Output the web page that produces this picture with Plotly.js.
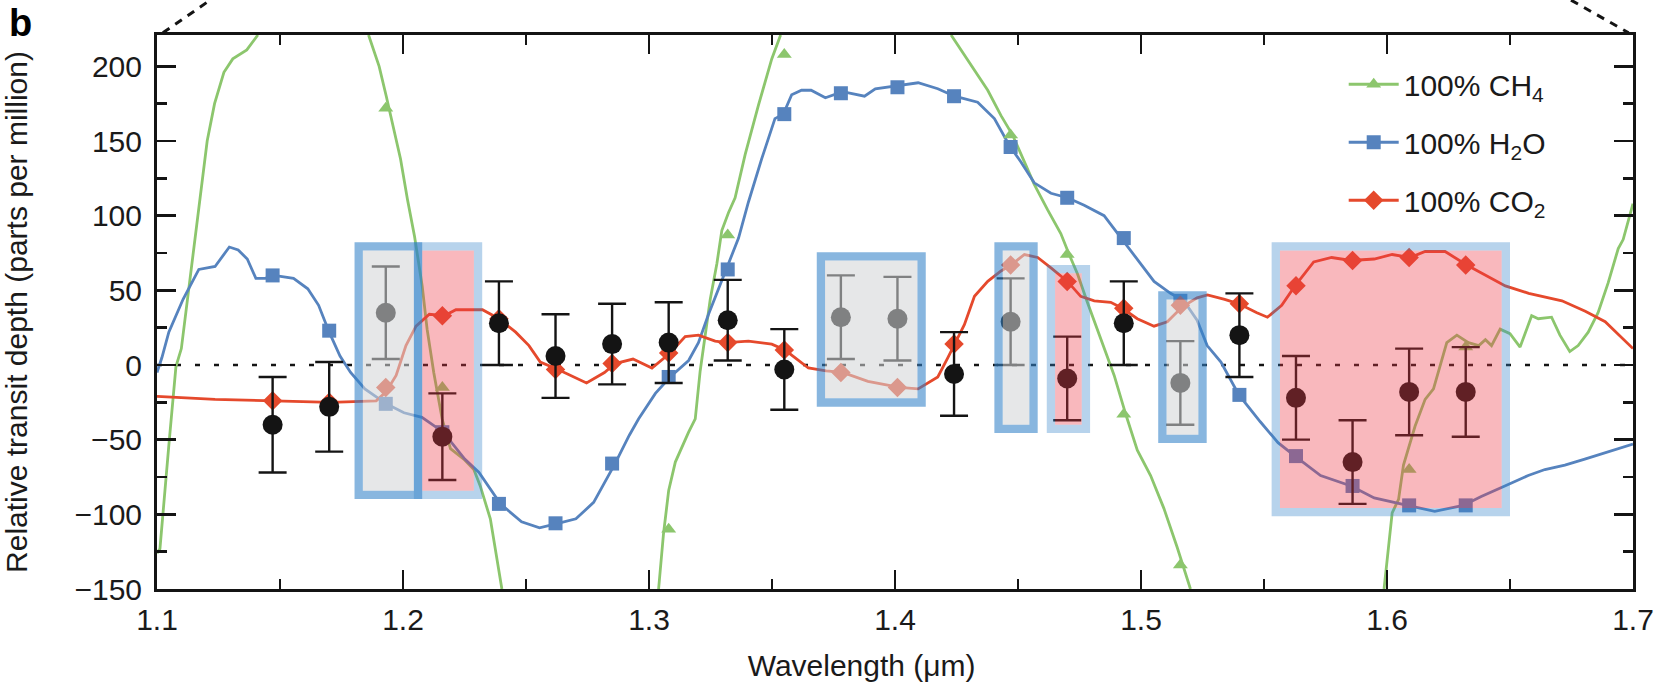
<!DOCTYPE html>
<html>
<head>
<meta charset="utf-8">
<script src="https://cdn.plot.ly/plotly-3.0.1.min.js"></script>
<style>html,body{margin:0;padding:0;background:#fff}#chart{width:1655px;height:687px}</style>
</head>
<body>
<div id="chart"></div>
<script>
// ---- Observed spectrum (channel centres, relative transit depth, 1-sigma errors)
const wavelength = [1.147,1.170,1.193,1.216,1.239,1.262,1.285,1.308,1.332,1.355,1.378,1.401,1.424,1.447,1.470,1.493,1.516,1.540,1.563,1.586,1.609,1.632];
const depth      = [-40,-28,35,-48,28,6,14,15,30,-3,32,31,-6,29,-9,28,-12,20,-22,-65,-18,-18];
const depthErr   = [32,30,31,29,28,28,27,27,27,27,28,28,28,29,28,28,28,28,28,28,29,30];

// ---- Binned model values at the channel centres
const ch4Binned = [null,null,172,-15,null,null,null,-110,87,208,null,null,null,154,74,-33,-134,null,null,null,-70,12];
const h2oBinned = [60,23,-26,-45,-93,-106,-66,-8,64,168,182,186,180,146,112,85,43,-20,-61,-81,-94,-94];
const co2Binned = [-24,-25,-15,33,31,-3,1,8,15,10,-5,-15,14,67,56,38,40,41,53,70,72,67];

// ---- High-resolution model spectra
const ch4X = [1.1000,1.1012,1.1048,1.1077,1.1099,1.1128,1.1164,1.1204,1.1234,1.1272,1.1308,1.1365,1.1410,null,
  1.1860,1.1903,1.1932,1.1961,1.1990,1.2018,1.2047,1.2078,1.2098,1.2125,1.2159,1.2193,1.2247,1.2288,1.2314,1.2355,1.2402,null,
  1.3039,1.3059,1.3080,1.3107,1.3161,1.3188,1.3208,1.3228,1.3249,1.3276,1.3296,1.3323,1.3350,1.3391,1.3445,1.3499,1.3535,null,
  1.4228,1.4310,1.4377,1.4431,1.4478,1.4526,1.4566,1.4620,1.4674,1.4708,1.4742,1.4782,1.4836,1.4891,1.4938,1.4985,1.5039,1.5093,1.5147,1.5201,null,
  1.5988,1.6021,1.6047,1.6067,1.6114,1.6155,1.6189,1.6216,1.6243,1.6284,1.6331,1.6373,1.6400,1.6425,1.6460,1.6500,1.6541,1.6588,1.6615,1.6669,1.6703,1.6743,1.6777,1.6818,1.6858,1.6899,1.6940,1.6960,1.6985,1.7000];
const ch4Y = [-126,-123,-54,-1,11,50,100,150,175,196,205,211,221,null,
  221,200,180,160,138,111,86,53,24,-5,-36,-56,-63,-70,-81,-103,-150,null,
  -150,-113,-84,-65,-45,-36,-4,20,44,68,90,102,112,141,174,205,221,null,
  221,201,184,167,154,136,121,104,88,74,61,42,18,-7,-33,-57,-74,-96,-122,-150,null,
  -150,-99,-90,-67,-41,-23,-16,0,15,20,15,13,17,13,24,21,12,33,31,32,20,9,13,22,35,55,78,84,100,108];

const h2oX = [1.1000,1.1020,1.1048,1.1106,1.1170,1.1236,1.1294,1.1330,1.1367,1.1402,1.1440,1.1476,1.1555,1.1613,1.1657,1.1700,1.1744,1.1787,1.1845,1.1932,1.2004,1.2077,1.2164,1.2251,1.2309,1.2396,1.2482,1.2555,1.2630,1.2703,1.2775,1.2862,1.2920,1.2958,1.3026,1.3086,1.3161,1.3201,1.3242,1.3283,1.3316,1.3364,1.3404,1.3458,1.3512,1.3546,1.3580,1.3620,1.3659,1.3717,1.3787,1.3876,1.3920,1.4018,1.4094,1.4174,1.4242,1.4336,1.4404,1.4465,1.4512,1.4566,1.4634,1.4701,1.4769,1.4850,1.4918,1.4985,1.5053,1.5120,1.5174,1.5228,1.5269,1.5325,1.5398,1.5485,1.5557,1.5626,1.5730,1.5854,1.5948,1.6083,1.6194,1.6310,1.6383,1.6479,1.6574,1.6642,1.6723,1.6804,1.6885,1.6940,1.7000];
const h2oY = [-5,5,22,44,64,66,79,77,71,58,58,60,58,51,40,22,6,-5,-16,-26,-32,-35,-45,-63,-72,-93,-105,-109,-106,-103,-92,-66,-47,-36,-19,-8,3,15,34,51,64,85,109,138,165,168,181,184,184,179,183,180,185,187,189,185,180,176,165,147,136,122,115,112,107,100,85,71,56,48,43,30,13,2,-20,-38,-52,-61,-74,-81,-89,-94,-98,-94,-88,-81,-74,-70,-67,-63,-59,-56,-53];

const co2X = [1.1000,1.1236,1.1476,1.1707,1.1891,1.1931,1.1972,1.2012,1.2053,1.2107,1.2168,1.2215,1.2323,1.2390,1.2458,1.2512,1.2558,1.2630,1.2746,1.2819,1.2862,1.2935,1.3012,1.3086,1.3147,1.3201,1.3269,1.3316,1.3404,1.3499,1.3553,1.3607,1.3648,1.3720,1.3787,1.3890,1.4018,1.4094,1.4174,1.4215,1.4242,1.4282,1.4323,1.4377,1.4431,1.4472,1.4526,1.4580,1.4634,1.4701,1.4755,1.4810,1.4877,1.4924,1.4985,1.5053,1.5107,1.5168,1.5228,1.5270,1.5340,1.5398,1.5471,1.5514,1.5572,1.5626,1.5702,1.5775,1.5854,1.5948,1.6021,1.6094,1.6155,1.6236,1.6324,1.6400,1.6481,1.6576,1.6711,1.6806,1.6887,1.7000];
const co2Y = [-21,-23,-24,-25,-24,-18,-7,13,26,34,33,37,37,31,22,13,2,-3,-12,-5,1,4,-2,8,19,20,16,15,16,14,10,3,-2,-4,-5,-11,-15,-16,-8,5,14,27,46,56,63,67,74,72,65,56,46,43,42,38,31,26,29,39,45,47,44,41,35,32,40,53,69,72,70,71,74,72,76,76,67,60,53,48,43,36,29,11];

// ---- Highlighted channel groups (outer edges): grey = blue-framed, red = light-blue framed
const greyBoxX0 = [1.1803,1.3682,1.4404,1.5070];
const greyBoxX1 = [1.2078,1.4125,1.4580,1.5267];
const greyBoxY0 = [-89.8,-27.9,-45.5,-52.2];
const greyBoxY1 = [82.2,75.5,82.2,49.4];
const redBoxX0 = [1.2044,1.4617,1.5531];
const redBoxX1 = [1.2322,1.4793,1.6500];
const redBoxY0 = [-89.8,-45.5,-101.3];
const redBoxY1 = [82.2,67.0,82.2];

const seriesNames = ['100% CH<sub>4</sub>','100% H<sub>2</sub>O','100% CO<sub>2</sub>'];
const xTicks = [1.1,1.2,1.3,1.4,1.5,1.6,1.7];
const xRange = [1.1,1.7], yRange = [-150,221];

const GREEN = '#8cc66d', BLUE = '#5683be', RED = '#e5492c', INK = '#141414';
const FONT = 'Liberation Sans, Arial, Helvetica, sans-serif';
const FS = 30;

const M = {l:157, r:22, t:35, b:98}, W = 1655, H = 687;
const pxX = (W - M.l - M.r) / (xRange[1]-xRange[0]);
const pxY = (H - M.t - M.b) / (yRange[1]-yRange[0]);
const BORDER = 8.3;
const dx = BORDER/pxX, dy = BORDER/pxY;

const traces = [
  {x: ch4X, y: ch4Y, mode:'lines', line:{color:GREEN, width:2.8}, showlegend:false, hoverinfo:'skip', connectgaps:false},
  {x: h2oX, y: h2oY, mode:'lines', line:{color:BLUE, width:2.8}, showlegend:false, hoverinfo:'skip'},
  {x: co2X, y: co2Y, mode:'lines', line:{color:RED, width:2.8}, showlegend:false, hoverinfo:'skip'},
  {x: wavelength, y: ch4Binned, mode:'markers', marker:{symbol:'triangle-up', size:13, color:GREEN}, showlegend:false},
  {x: wavelength, y: h2oBinned, mode:'markers', marker:{symbol:'square', size:14, color:BLUE}, showlegend:false},
  {x: wavelength, y: co2Binned, mode:'markers', marker:{symbol:'diamond', size:15, color:RED}, showlegend:false},
  {x: wavelength, y: depth, mode:'markers', marker:{symbol:'circle', size:20, color:INK},
   error_y:{type:'data', array: depthErr, visible:true, color:INK, thickness:2.4, width:14}, showlegend:false},
  {x:[null], y:[null], mode:'lines+markers', name: seriesNames[0], legendgroup:'a', line:{color:GREEN, width:2.8}, marker:{symbol:'triangle-up', size:13, color:GREEN}},
  {x:[null], y:[null], mode:'lines+markers', name: seriesNames[1], legendgroup:'b', line:{color:BLUE, width:2.8}, marker:{symbol:'square', size:14, color:BLUE}},
  {x:[null], y:[null], mode:'lines+markers', name: seriesNames[2], legendgroup:'c', line:{color:RED, width:2.8}, marker:{symbol:'diamond', size:15, color:RED}}
];

const shapes = [
  {type:'line', xref:'x', yref:'y', x0:xRange[0], x1:xRange[1], y0:0, y1:0, layer:'below', line:{color:INK, width:2.5, dash:'5px,14px'}},
  {type:'line', xref:'paper', yref:'paper', x0:0.004, y0:1.004, x1:0.036, y1:1.063, line:{color:INK, width:3, dash:'8px,7px'}},
  {type:'line', xref:'paper', yref:'paper', x0:0.958, y0:1.063, x1:0.997, y1:1.004, line:{color:INK, width:3, dash:'8px,7px'}}
];
for (let i=0;i<redBoxX0.length;i++){
  shapes.push({type:'rect', xref:'x', yref:'y', layer:'above', x0:redBoxX0[i]+dx, x1:redBoxX1[i]-dx, y0:redBoxY0[i]+dy, y1:redBoxY1[i]-dy,
    fillcolor:'rgba(238,57,70,0.355)', line:{width:0}});
  shapes.push({type:'rect', xref:'x', yref:'y', layer:'above', x0:redBoxX0[i]+dx/2, x1:redBoxX1[i]-dx/2, y0:redBoxY0[i]+dy/2, y1:redBoxY1[i]-dy/2,
    fillcolor:'rgba(0,0,0,0)', line:{width:BORDER, color:'rgba(50,130,200,0.35)'}});
}
for (let i=0;i<greyBoxX0.length;i++){
  shapes.push({type:'rect', xref:'x', yref:'y', layer:'above', x0:greyBoxX0[i]+dx, x1:greyBoxX1[i]-dx, y0:greyBoxY0[i]+dy, y1:greyBoxY1[i]-dy,
    fillcolor:'rgba(211,212,215,0.57)', line:{width:0}});
  shapes.push({type:'rect', xref:'x', yref:'y', layer:'above', x0:greyBoxX0[i]+dx/2, x1:greyBoxX1[i]-dx/2, y0:greyBoxY0[i]+dy/2, y1:greyBoxY1[i]-dy/2,
    fillcolor:'rgba(0,0,0,0)', line:{width:BORDER, color:'rgba(50,130,200,0.58)'}});
}

const axisCommon = {
  showline:true, linewidth:3, linecolor:INK, mirror:'ticks', ticks:'inside', tickcolor:INK, tickwidth:2.5, ticklen:19,
  showgrid:false, zeroline:false, tickfont:{family:FONT, size:FS, color:'#1a1a1a'}, ticklabeloverflow:'allow'
};

const layout = {
  width:W, height:H, margin:M, paper_bgcolor:'#fff', plot_bgcolor:'#fff',
  showlegend:true,
  font:{family:FONT, size:FS, color:'#1a1a1a'},
  xaxis: Object.assign({}, axisCommon, {range:xRange, tickmode:'array', tickvals:xTicks, ticktext:xTicks.map(v=>v.toFixed(1)),
    ticklabelstandoff:2,
    minor:{ticks:'inside', dtick:0.05, tick0:1.1, ticklen:10, tickwidth:2.5, tickcolor:INK, showgrid:false},
    title:{text:'Wavelength (\u03bcm)\u00a0\u00a0\u00a0\u00a0\u00a0\u00a0\u00a0\u00a0\u200b', font:{family:FONT, size:FS, color:'#1a1a1a'}, standoff:20}}),
  yaxis: Object.assign({}, axisCommon, {range:yRange, tick0:0, dtick:50, ticklabelstandoff:6,
    minor:{ticks:'inside', dtick:25, tick0:0, ticklen:10, tickwidth:2.5, tickcolor:INK, showgrid:false},
    title:{text:'Relative transit depth (parts per million)', font:{family:FONT, size:FS, color:'#1a1a1a'}, standoff:38}}),
  legend:{x:0.804, xanchor:'left', y:0.958, yanchor:'top', bgcolor:'rgba(0,0,0,0)', borderwidth:0,
    font:{family:FONT, size:FS, color:'#1a1a1a'}, itemwidth:50, tracegroupgap:16, traceorder:'grouped'},
  shapes: shapes,
  annotations:[{text:'<b>b</b>', xref:'paper', yref:'paper', x:-0.1017, y:1.022, xanchor:'left', yanchor:'middle', showarrow:false,
    font:{family:FONT, size:38, color:'#000'}}]
};

Plotly.newPlot('chart', traces, layout, {staticPlot:true, displayModeBar:false});
</script>
</body>
</html>
